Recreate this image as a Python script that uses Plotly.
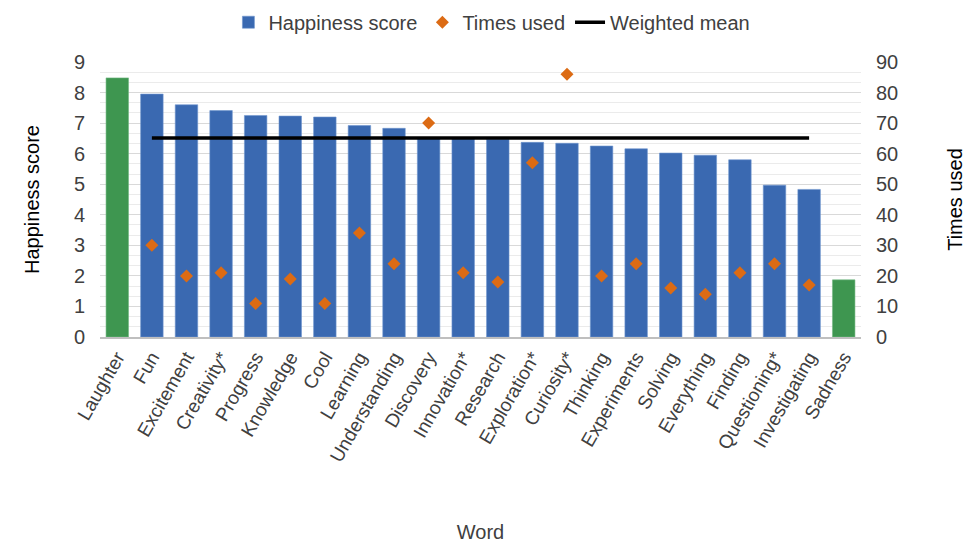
import plotly.graph_objects as go

# Words ordered by happiness score
words = ["Laughter", "Fun", "Excitement", "Creativity*", "Progress", "Knowledge",
         "Cool", "Learning", "Understanding", "Discovery", "Innovation*", "Research",
         "Exploration*", "Curiosity*", "Thinking", "Experiments", "Solving",
         "Everything", "Finding", "Questioning*", "Investigating", "Sadness"]

happiness = [8.48, 7.95, 7.60, 7.41, 7.25, 7.23, 7.20, 6.92, 6.83, 6.49, 6.48,
             6.47, 6.37, 6.34, 6.25, 6.16, 6.02, 5.95, 5.80, 4.97, 4.83, 1.87]

# Reference words (no usage count) shown in green
reference_words = ["Laughter", "Sadness"]

times_used = [None, 30, 20, 21, 11, 19, 11, 34, 24, 70, 21, 18, 57, 86, 20, 24,
              16, 14, 21, 24, 17, None]

weighted_mean = 6.51
mean_words = ["Fun", "Investigating"]

BLUE = "#3A69B1"
GREEN = "#3E9650"
ORANGE = "#DC6B14"
FONT = "Liberation Sans, Arial, sans-serif"
TEXT = "#404040"

blue_vals = [None if w in reference_words else v for w, v in zip(words, happiness)]
green_vals = [v if w in reference_words else None for w, v in zip(words, happiness)]

fig = go.Figure()
fig.add_trace(go.Bar(x=words, y=blue_vals, name="Happiness score",
                     marker=dict(color=BLUE, line=dict(color="#6F95CF", width=0.6))))
fig.add_trace(go.Bar(x=words, y=green_vals, name="Reference", showlegend=False,
                     marker=dict(color=GREEN, line=dict(color="#72B883", width=0.6))))
fig.add_trace(go.Scatter(x=words, y=times_used, name="Times used", mode="markers",
                         yaxis="y2",
                         marker=dict(symbol="diamond", size=10, color=ORANGE)))
fig.add_trace(go.Scatter(x=mean_words, y=[weighted_mean] * len(mean_words),
                         name="Weighted mean", mode="lines",
                         line=dict(color="black", width=3.5)))

fig.update_layout(
    width=968, height=543,
    margin=dict(l=100, r=107, t=62, b=206),
    paper_bgcolor="white", plot_bgcolor="white",
    barmode="overlay", bargap=0.35,
    font=dict(family=FONT, size=19, color=TEXT),
    showlegend=True,
    legend=dict(orientation="h", x=0.515, xanchor="center", y=0.995, yanchor="top",
                yref="container", font=dict(size=20, color=TEXT),
                itemwidth=30, tracegroupgap=0),
    xaxis=dict(tickangle=-60, tickfont=dict(size=19, color=TEXT),
               range=[-0.5, len(words) - 0.5], autorange=False,
               showline=True, linecolor="#BFBFBF", linewidth=1.5,
               ticks="", automargin=False,
               title=dict(text="Word", font=dict(size=20, color=TEXT), standoff=63)),
    yaxis=dict(range=[0, 9], dtick=1, tick0=0, showgrid=True, gridcolor="#D9D9D9",
               gridwidth=1, zeroline=False, automargin=False,
               tickfont=dict(size=20, color=TEXT), ticklabelstandoff=14,
               minor=dict(dtick=1 / 3, showgrid=True, gridcolor="#EBEBEB", gridwidth=1),
               title=dict(text="Happiness score", font=dict(size=20, color="#000000"),
                          standoff=28)),
    yaxis2=dict(range=[0, 90], dtick=10, tick0=0, overlaying="y", side="right",
                showgrid=False, zeroline=False, automargin=False,
                tickfont=dict(size=20, color=TEXT), ticklabelstandoff=14,
                title=dict(text="Times used", font=dict(size=20, color="#000000"),
                           standoff=50)),
)

fig.write_html("out.html")
